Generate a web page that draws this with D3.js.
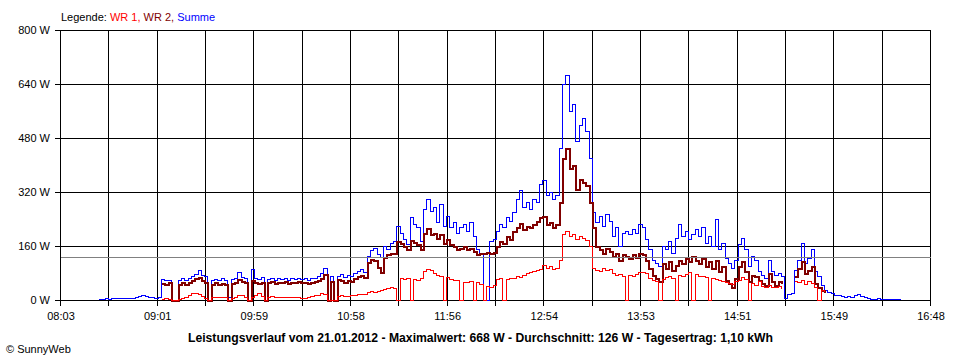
<!DOCTYPE html>
<html><head><meta charset="utf-8">
<script src="https://cdn.jsdelivr.net/npm/d3@7"></script>
<style>
body{margin:0;background:#fff}
svg{display:block}
text{font-family:"Liberation Sans",Arial,sans-serif;font-size:11px;fill:#000}
</style>
</head><body>
<svg id="chart" width="960" height="360"></svg>
<script>
// ---- data ----
const axisStart = "08:03", axisEnd = "16:48";
const xTickLabels = ["08:03","09:01","09:59","10:58","11:56","12:54","13:53","14:51","15:49","16:48"];
const yTicks = [0,160,320,480,640,800];
const yMax = 800;
const dataStart = "08:26", stepMinutes = 2;
const average = 126;
const title = "Leistungsverlauf vom 21.01.2012 - Maximalwert: 668 W - Durchschnitt: 126 W - Tagesertrag: 1,10 kWh";
const seriesNames = ["WR 1", "WR 2", "Summe"];
const seriesColors = ["#ff0000", "#800000", "#0000ff"];

const summe = [
 3,4,5,4,5,6,5,6,7,6,7,8,
 12,15,11,8,9,7,
 8,
 62,58,60,0,0,
 60,64,58,66,70,78,90,75,70,
 0,
 60,62,58,64,60,
 10,
 62,66,82,68,64,
 0,
 92,66,62,68,
 0,
 62,66,60,64,62,66,60,64,62,66,62,66,60,64,66,70,80,96,
 0,70,0,
 72,76,68,74,70,80,86,92,84,
 130,148,155,135,128,160,150,170,175,
 220,200,180,165,245,225,215,175,270,300,
 265,275,230,285,220,250,215,230,200,215,
 225,205,230,190,150,140,0,0,175,180,
 205,225,215,245,235,260,300,325,275,290,
 270,300,290,345,355,310,320,300,310,450,
 640,668,560,580,470,520,540,500,420,260,
 230,250,220,255,235,190,215,160,200,205,
 195,210,200,225,215,180,150,120,110,100,
 160,150,175,140,185,225,190,205,180,195,
 210,190,215,170,190,160,240,150,170,125,
 110,95,120,165,185,150,100,130,120,85,
 75,65,120,85,75,80,70,5,18,22,
 90,120,170,110,125,150,85,70,45,30,
 25,20,14,16,12,10,11,9,14,18,
 12,8,5,3,3,5,4,3,3,3,
 3,3,3
];

const wr2 = [
 null,null,null,null,null,null,null,null,null,null,null,null,null,null,null,null,null,null,null,
 50,46,52,0,0,
 48,52,46,54,58,64,68,60,52,
 0,
 48,52,46,50,48,
 0,
 50,54,62,56,52,
 0,
 58,54,50,52,
 0,
 52,56,50,54,52,56,50,54,52,56,52,54,50,54,56,60,66,78,
 0,56,0,
 62,58,52,60,56,64,70,74,68,
 112,122,120,98,82,128,135,140,138,
 175,168,160,150,178,172,165,150,200,212,
 195,200,185,195,170,180,165,160,150,155,
 160,150,155,145,135,140,138,142,140,142,
 160,175,170,190,180,205,215,228,210,220,
 215,225,235,245,250,225,230,215,225,290,
 420,450,390,400,330,360,350,340,290,215,
 160,150,140,155,145,130,140,120,135,130,
 125,135,128,140,135,120,95,75,65,55,
 110,95,115,90,105,120,110,125,115,130,
 120,110,125,100,115,95,120,85,100,60,
 50,40,65,100,115,85,55,75,70,60,
 50,45,80,55,45,55,50,null,null,null,
 70,95,115,80,90,100,50,40,30,25,
 null,null,null,null,null,null,null,null,null,null,null,null,null,null,null,null,null,null,null,null,null,null,null
];

const wr1 = [
 null,null,null,null,null,null,null,null,null,null,null,null,null,null,null,null,null,null,null,
 4,5,4,0,0,
 3,5,10,15,20,22,18,12,5,
 0,
 8,10,9,10,9,
 0,
 6,10,16,14,8,
 0,
 10,14,20,12,
 0,
 10,11,10,9,10,9,8,9,10,8,7,6,8,12,14,16,20,18,
 0,0,0,
 12,14,12,13,14,16,18,17,18,
 24,26,24,28,30,34,36,38,36,
 0,65,62,64,0,62,60,64,85,92,
 88,80,75,72,0,68,62,58,60,0,
 54,52,55,0,52,48,0,42,40,44,
 62,64,0,62,66,64,70,68,74,80,
 84,86,90,92,105,95,100,92,95,120,
 195,205,190,195,180,190,185,178,160,95,
 90,85,95,88,92,80,75,78,72,0,
 74,72,78,82,84,80,65,58,55,0,
 62,68,72,65,0,75,72,78,82,0,
 78,70,72,68,0,65,62,58,55,52,
 50,48,55,60,68,62,0,50,45,55,
 42,38,45,40,38,42,35,null,null,null,
 55,52,60,48,55,50,40,0,30,28,
 null,null,null,null,null,null,null,null,null,null,null,null,null,null,null,null,null,null,null,null,null,null,null
];

// ---- drawing ----
const toMin = s => { const [h, m] = s.split(":").map(Number); return h * 60 + m; };
const t0 = toMin(axisStart), t1 = toMin(axisEnd);
const start = toMin(dataStart);

const svg = d3.select("#chart");
const x = d3.scaleLinear().domain([t0, t1]).range([60, 930]);
const y = d3.scaleLinear().domain([0, yMax]).range([300, 30]);

const nGrid = (xTickLabels.length - 1) * 2;
const gridTimes = d3.range(nGrid + 1).map(i => t0 + i * (t1 - t0) / nGrid);
const px = v => Math.round(v) + 0.5;

const grid = svg.append("g").attr("stroke", "#000").attr("stroke-width", 1).attr("shape-rendering", "crispEdges");
gridTimes.forEach(t => {
  grid.append("line").attr("x1", px(x(t))).attr("x2", px(x(t))).attr("y1", px(y(yMax))).attr("y2", px(y(0)) + 5);
});
yTicks.forEach(v => {
  grid.append("line").attr("x1", px(x(t0)) - 6).attr("x2", px(x(t1))).attr("y1", px(y(v))).attr("y2", px(y(v)));
});

// y labels
svg.append("g").selectAll("text").data(yTicks).join("text")
  .attr("x", 50).attr("y", d => Math.round(y(d)) + 4)
  .attr("text-anchor", "end").text(d => d + " W");

// x labels
svg.append("g").selectAll("text").data(xTickLabels).join("text")
  .attr("x", (d, i) => x(gridTimes[i * 2]) + 1).attr("y", 320)
  .attr("text-anchor", "middle").text(d => d);

// series (Summe drawn first, WR 1 on top)
const series = [
  {name: seriesNames[2], values: summe, color: seriesColors[2], w: 1},
  {name: seriesNames[1], values: wr2, color: seriesColors[1], w: 2},
  {name: seriesNames[0], values: wr1, color: seriesColors[0], w: 1}
];
const line = d3.line()
  .defined(d => d.v != null)
  .x(d => Math.round(x(d.t)) + 0.5)
  .y(d => Math.round(y(d.v)) + 0.5)
  .curve(d3.curveStepAfter);
series.forEach(s => {
  const pts = s.values.map((v, i) => ({t: start + i * stepMinutes, v}));
  svg.append("path").datum(pts)
    .attr("d", line).attr("fill", "none")
    .attr("stroke", s.color).attr("stroke-width", s.w)
    .attr("shape-rendering", "crispEdges");
});

// average line
svg.append("line")
  .attr("x1", px(x(t0))).attr("x2", px(x(t1)))
  .attr("y1", px(y(average))).attr("y2", px(y(average)))
  .attr("stroke", "#808080").attr("stroke-width", 1).attr("shape-rendering", "crispEdges");

// legend
const lg = svg.append("text").attr("x", 61).attr("y", 21);
lg.append("tspan").text("Legende: ");
lg.append("tspan").attr("fill", seriesColors[0]).text(seriesNames[0] + ", ");
lg.append("tspan").attr("fill", seriesColors[1]).text(seriesNames[1] + ", ");
lg.append("tspan").attr("fill", seriesColors[2]).text(seriesNames[2]);

// title
svg.append("text").attr("x", 188).attr("y", 342)
  .style("font-weight", "bold").style("font-size", "12px")
  .attr("textLength", 585).attr("lengthAdjust", "spacingAndGlyphs")
  .text(title);

// copyright
svg.append("text").attr("x", 6).attr("y", 353).text("\u00A9 SunnyWeb");
</script>
</body></html>
